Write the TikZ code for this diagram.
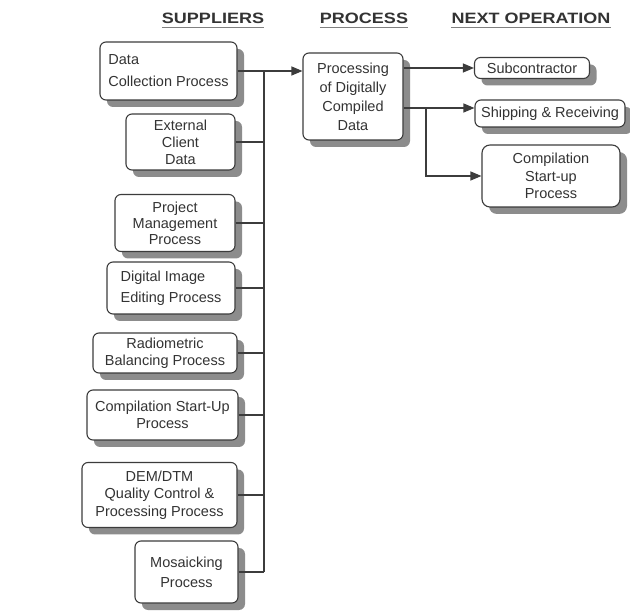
\documentclass[tikz,border=0pt]{standalone}
\usepackage{fontspec}
\setmainfont{Liberation Sans}
\usetikzlibrary{arrows.meta,shadows}
\definecolor{ink}{HTML}{333333}
\definecolor{wire}{HTML}{3C3C3C}
\definecolor{shade}{HTML}{8C8C8C}
\newcommand\setboxfont[1]{\fontsize{14.5}{#1}\selectfont}
\tikzset{
  box/.style={draw=wire, line width=1.1pt, fill=white, rounded corners=6pt,
    text=ink, align=center, inner sep=2pt, font=\setboxfont{17},
    drop shadow={shadow xshift=7pt, shadow yshift=-7pt, fill=shade, opacity=1}},
  hdr/.style={text=ink, inner sep=0pt, font=\bfseries\fontsize{15}{18}\selectfont},
  wireline/.style={draw=wire, line width=1.1pt},
  arr/.style={wireline, -{Triangle[length=11pt,width=9pt]}},
}
\begin{document}
\begin{tikzpicture}[x=1pt,y=-1pt]
  \useasboundingbox[fill=white] (0,0) rectangle (630,612);

  % column headings
  \node[hdr] (hsup) at (213,18) {\scalebox{1.2}[1]{SUPPLIERS}};
  \node[hdr] (hpro) at (364,18) {\scalebox{1.2}[1]{PROCESS}};
  \node[hdr] (hnex) at (531,18) {\scalebox{1.2}[1]{NEXT OPERATION}};
  \foreach \h in {hsup,hpro,hnex}
    \draw[draw=gray, line width=1.2pt] ([yshift=-4pt]\h.south west) -- ([yshift=-4pt]\h.south east);

  % supplier boxes
  \node[box, align=left, minimum width=137pt, minimum height=58pt, font=\setboxfont{22}]
    (dc) at (168.5,71) {Data\\Collection Process};
  \node[box, minimum width=109pt, minimum height=56pt] (ec) at (180.5,142) {External\\Client\\Data};
  \node[box, minimum width=120pt, minimum height=57pt, font=\setboxfont{16}]
    (pm) at (175,223) {Project\\Management\\Process};
  \node[box, align=left, minimum width=128pt, minimum height=52pt, font=\setboxfont{21}]
    (di) at (171,288) {Digital Image\\Editing Process};
  \node[box, minimum width=144pt, minimum height=40pt] (rb) at (165,353) {Radiometric\\Balancing Process};
  \node[box, minimum width=151pt, minimum height=50pt] (cs) at (162.5,415) {Compilation Start-Up\\Process};
  \node[box, minimum width=155pt, minimum height=65pt, font=\setboxfont{17.5}]
    (dem) at (159.5,495) {DEM/DTM\\Quality Control \&\\Processing Process};
  \node[box, minimum width=103pt, minimum height=62pt, font=\setboxfont{20}]
    (mo) at (186.5,572) {Mosaicking\\Process};

  % process box
  \node[box, minimum width=100pt, minimum height=87pt, font=\setboxfont{19}]
    (proc) at (353,96.5) {Processing\\of Digitally\\Compiled\\Data};

  % next-operation boxes
  \node[box, minimum width=115pt, minimum height=21pt, inner sep=1pt] (sub) at (532,68) {Subcontractor};
  \node[box, minimum width=150pt, minimum height=27pt, inner sep=1pt] (ship) at (550,113.5) {Shipping \& Receiving};
  \node[box, minimum width=138pt, minimum height=62pt, rounded corners=8pt, font=\setboxfont{17.5}]
    (csr) at (551,176) {Compilation\\Start-up\\Process};

  % supplier bus
  \coordinate (bustop) at (264,71);
  \coordinate (busbot) at (264,572);
  \draw[wireline] (bustop) -- (busbot);
  \foreach \b in {dc,ec,pm,di,rb,cs,dem,mo}
    \draw[wireline] (\b.east) -- (\b.east -| bustop);
  \draw[arr] (bustop) -- (proc.west |- bustop);

  % outputs of the process
  \coordinate (split) at (426,108);
  \draw[arr] (proc.east |- sub.west) -- (sub.west);
  \draw[arr] (proc.east |- split) -- (ship.west |- split);
  \draw[arr] (split) |- (csr.west);
\end{tikzpicture}
\end{document}
